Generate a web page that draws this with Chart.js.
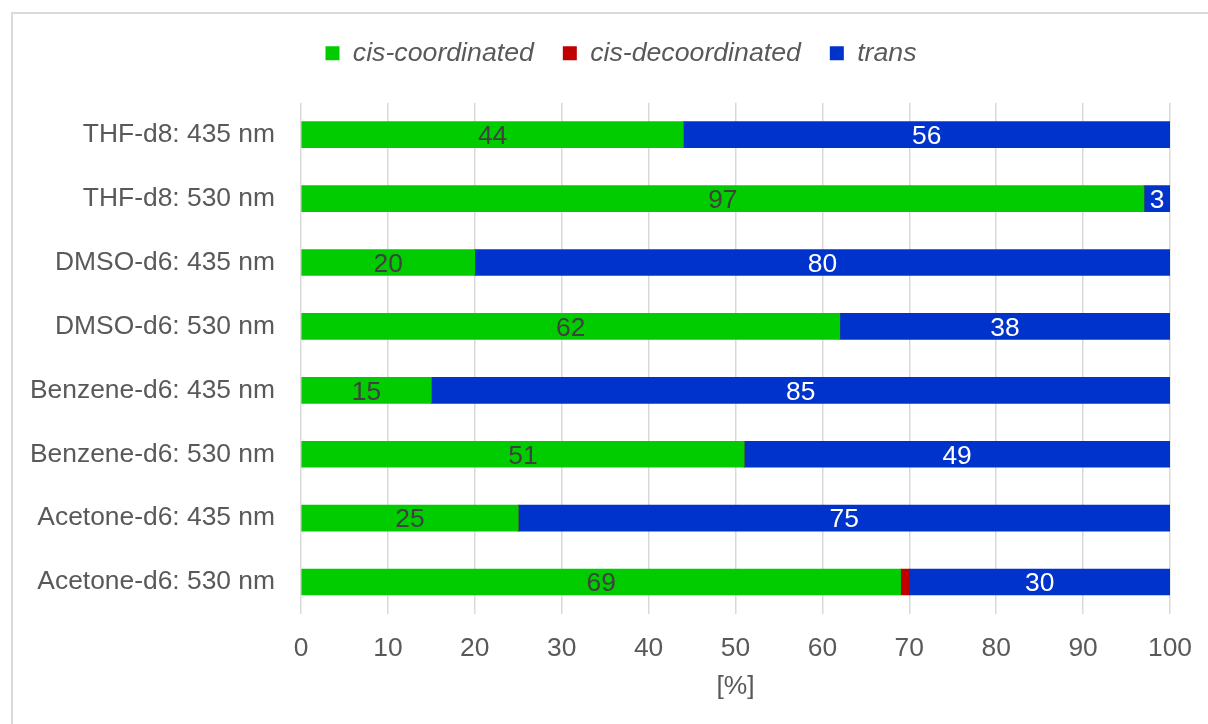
<!DOCTYPE html>
<html>
<head>
<meta charset="utf-8">
<script src="https://cdn.jsdelivr.net/npm/chart.js@4.4.1/dist/chart.umd.min.js"></script>
<style>
  html, body { margin: 0; padding: 0; background: #fff; overflow: hidden; width: 1208px; height: 724px; }
  #frame { position: absolute; left: 11px; top: 12px; width: 1400px; height: 900px; border: 2px solid #d9d9d9; box-sizing: border-box; }
  #wrap { position: absolute; left: 0; top: 0; width: 1208px; height: 724px; }
</style>
</head>
<body>
<div id="frame"></div>
<div id="wrap"><canvas id="c" width="1208" height="724"></canvas></div>
<script>
// Sample / wavelength combinations, top to bottom
const categories = [
  'THF-d8: 435 nm',
  'THF-d8: 530 nm',
  'DMSO-d6: 435 nm',
  'DMSO-d6: 530 nm',
  'Benzene-d6: 435 nm',
  'Benzene-d6: 530 nm',
  'Acetone-d6: 435 nm',
  'Acetone-d6: 530 nm'
];

// Isomer distribution in percent
const cisCoordinated   = [44, 97, 20, 62, 15, 51, 25, 69];
const cisDecoordinated = [0, 0, 0, 0, 0, 0, 0, 1];
const trans            = [56, 3, 80, 38, 85, 49, 75, 30];

const seriesNames = ['cis-coordinated', 'cis-decoordinated', 'trans'];
const axisTitle = '[%]';

const FONT = '"Liberation Sans", Arial, Helvetica, sans-serif';
const TEXT = '#595959';
const SIZE = 26.4;

Chart.defaults.font.family = FONT;
Chart.defaults.font.size = SIZE;
Chart.defaults.color = TEXT;

// Writes each segment's value in the middle of the segment
const segmentLabels = {
  id: 'segmentLabels',
  afterDatasetsDraw(chart) {
    const ctx = chart.ctx;
    ctx.save();
    ctx.font = SIZE + 'px ' + FONT;
    ctx.textAlign = 'center';
    ctx.textBaseline = 'middle';
    chart.data.datasets.forEach((ds, di) => {
      if (!ds.labelColor) return;
      const meta = chart.getDatasetMeta(di);
      meta.data.forEach((bar, i) => {
        const v = ds.data[i];
        if (!v) return;
        const p = bar.getCenterPoint();
        ctx.fillStyle = ds.labelColor;
        ctx.fillText(String(v), p.x, p.y + 2);
      });
    });
    ctx.restore();
  }
};

// Legend row: extra gap below it, and nudged right so it sits centred on the frame
const legendPlacement = {
  id: 'legendPlacement',
  afterInit(chart) {
    const lg = chart.legend;
    if (!lg) return;
    const fit = lg.fit.bind(lg);
    lg.fit = function () {
      fit();
      this.height += 26;
    };
    const draw = lg.draw.bind(lg);
    lg.draw = function () {
      const ctx = this.ctx;
      ctx.save();
      ctx.translate(17, 0);
      draw();
      ctx.restore();
    };
  }
};

new Chart(document.getElementById('c'), {
  type: 'bar',
  data: {
    labels: categories,
    datasets: [
      { label: seriesNames[0], data: cisCoordinated,   backgroundColor: '#00cc00', labelColor: '#404040' },
      { label: seriesNames[1], data: cisDecoordinated, backgroundColor: '#c00000', labelColor: null },
      { label: seriesNames[2], data: trans,            backgroundColor: '#0033cc', labelColor: '#ffffff' }
    ]
  },
  options: {
    indexAxis: 'y',
    responsive: false,
    animation: false,
    datasets: {
      bar: { barThickness: 26, borderWidth: 0 }
    },
    layout: { padding: { left: 0, right: 0, top: 11, bottom: 0 } },
    scales: {
      x: {
        stacked: true,
        min: 0,
        max: 100,
        border: { display: false },
        grid: { color: '#d9d9d9', lineWidth: 1.5, drawTicks: false },
        ticks: { stepSize: 10, padding: 19, color: TEXT, font: { size: SIZE } },
        title: { display: true, text: axisTitle, color: TEXT, font: { size: SIZE }, padding: { top: 0, bottom: 21 } },
        afterFit(scale) {
          scale.height = 110;
          scale.paddingRight = 38;
        }
      },
      y: {
        stacked: true,
        border: { display: false },
        grid: { display: false, drawTicks: false },
        ticks: { padding: 26, color: TEXT, font: { size: SIZE } },
        afterFit(scale) {
          scale.width = 301;
        }
      }
    },
    plugins: {
      legend: {
        position: 'top',
        labels: {
          boxWidth: 14,
          boxHeight: 14,
          padding: 29,
          color: TEXT,
          font: { size: 26.7, style: 'italic' }
        }
      },
      tooltip: { enabled: false }
    }
  },
  plugins: [segmentLabels, legendPlacement]
});
</script>
</body>
</html>
